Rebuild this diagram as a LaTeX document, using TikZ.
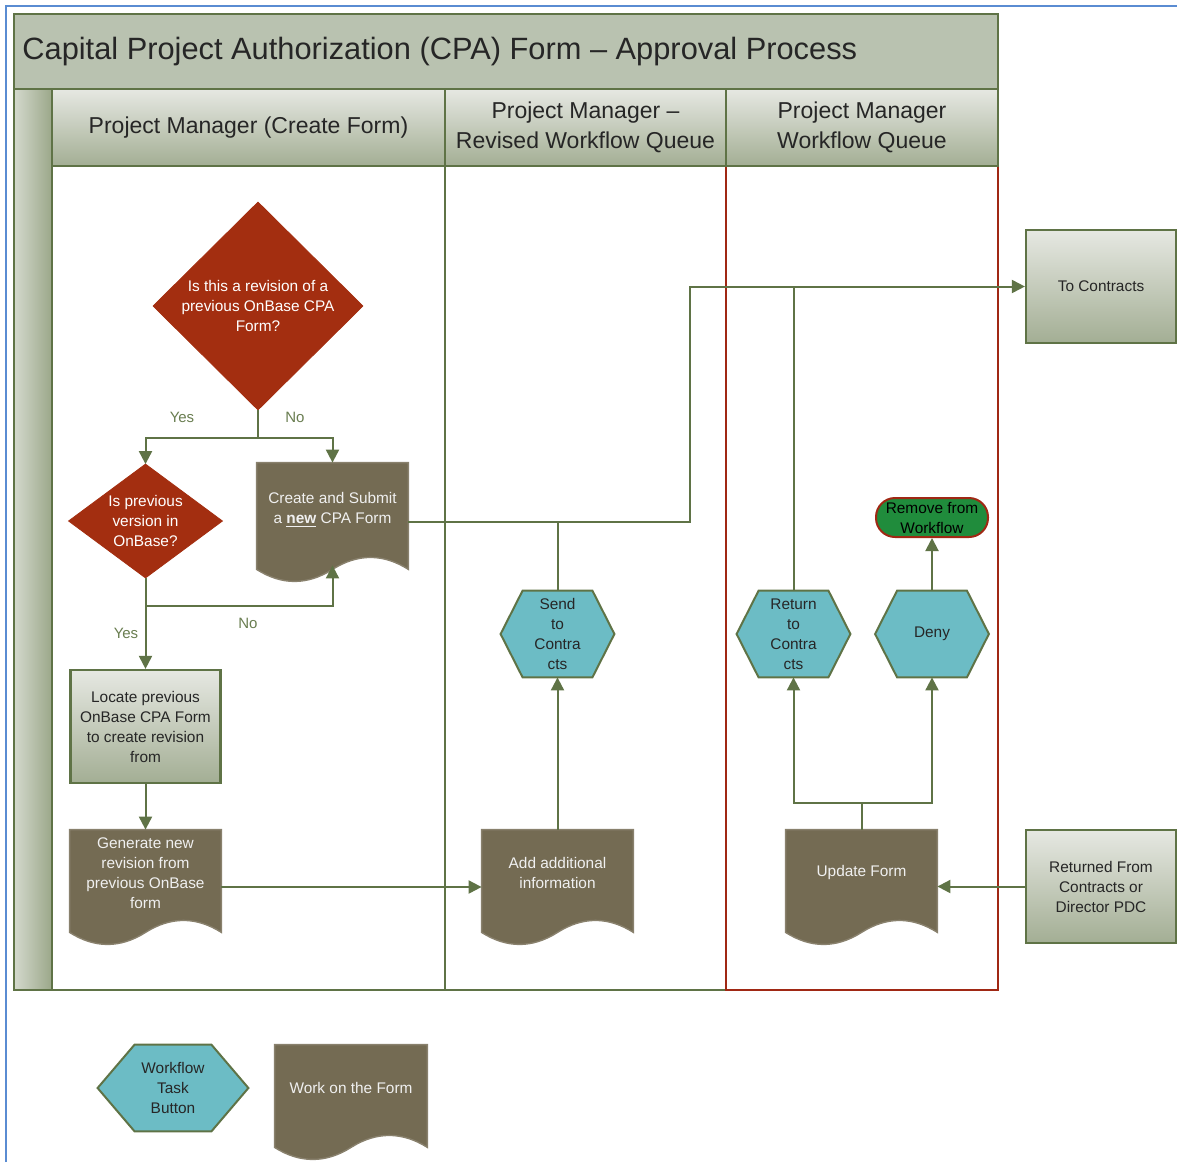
\documentclass[tikz,border=0pt]{standalone}
\usepackage{fontspec}
\setmainfont{Liberation Sans}
\usetikzlibrary{arrows.meta}
\pgfdeclarelayer{background}
\pgfsetlayers{background,main}

\definecolor{laneline}{RGB}{95,115,70}
\definecolor{lanered}{RGB}{160,40,20}
\definecolor{titlefill}{RGB}{185,194,176}
\definecolor{hdrtop}{RGB}{230,232,226}
\definecolor{hdrbot}{RGB}{163,174,148}
\definecolor{barlight}{RGB}{212,217,205}
\definecolor{bardark}{RGB}{155,167,137}
\definecolor{decfill}{RGB}{163,46,16}
\definecolor{formfill}{RGB}{116,107,83}
\definecolor{taskfill}{RGB}{108,188,197}
\definecolor{endfill}{RGB}{32,140,60}
\definecolor{labgreen}{RGB}{105,125,80}
\definecolor{framebl}{RGB}{90,140,210}

\newcommand{\nodefont}{\fontsize{7.7}{10}\selectfont}

\tikzset{%
  >={Triangle[width=6.5pt,length=6.5pt]},
          base/.style = {rectangle, align=center, inner sep=0pt, font=\nodefont},
      decision/.style = {base, text=white},
       formdoc/.style = {base, minimum width=75.5pt, minimum height=43pt, text=white!94!black},
          task/.style = {base, minimum width=56.5pt, minimum height=43pt, text=black!85},
       stepbox/.style = {base, draw=laneline, line width=1.1pt, top color=hdrtop, bottom color=hdrbot,
                         minimum width=75pt, minimum height=56.5pt, text=black!85},
        endbox/.style = {base, rounded corners=9.5pt, fill=endfill, draw=lanered, line width=1pt,
                         minimum width=56pt, minimum height=19.5pt, text=black},
        header/.style = {base, draw=laneline, line width=1.1pt, top color=hdrtop, bottom color=hdrbot,
                         minimum height=38.5pt, font=\fontsize{11.5}{15}\selectfont, text=black!85},
        answer/.style = {font=\fontsize{7.5}{9}\selectfont, text=labgreen},
          flow/.style = {draw=laneline, line width=1pt},
     formshape/.style = {fill=formfill, draw=formfill!85!white, line width=0.7pt},
     taskshape/.style = {fill=taskfill, draw=laneline, line width=1pt},
      lanepath/.style = {draw=laneline, line width=1.2pt},
}

\begin{document}
\begin{tikzpicture}[x=0.5pt, y=-0.5pt]
  \useasboundingbox (0,0) rectangle (1177,1162);

  \draw[framebl, line width=1pt] (6,1162) -- (6,6) -- (1177,6);
  \filldraw[lanepath, fill=titlefill] (14,14) rectangle (998,89);
  \shade[left color=barlight, right color=bardark] (14,89) rectangle (52,990);
  \draw[lanepath] (14,89) rectangle (52,990);
  \draw[lanepath] (52,166) rectangle (445,990);
  \draw[lanepath] (445,166) rectangle (726,990);
  \draw[lanepath, draw=lanered] (726,166) rectangle (998,990);

  \node (title)      [anchor=west, inner sep=0pt, font=\fontsize{15.4}{18}\selectfont, text=black!85] at (22,52)
                     {Capital Project Authorization (CPA) Form – Approval Process};
  \node (hdrCreate)  [header, minimum width=196.5pt] at (248.5,127.5) {Project Manager (Create Form)};
  \node (hdrRevised) [header, minimum width=140.5pt] at (585.5,127.5) {Project Manager –\\Revised Workflow Queue};
  \node (hdrQueue)   [header, minimum width=136pt]   at (862,127.5)   {Project Manager\\Workflow Queue};

  \node (isRevision) [decision, minimum width=104.5pt, minimum height=103.5pt] at (258,306)
                     {Is this a revision of a\\previous OnBase CPA\\Form?};
  \node (inOnBase)   [decision, minimum width=76.5pt, minimum height=56.5pt] at (145.5,521)
                     {Is previous\\version in\\OnBase?};
  \node (createNew)  [formdoc]  at (332.5,510)  {Create and Submit\\a \underline{\textbf{new}} CPA Form};
  \node (locate)     [stepbox]  at (145.5,726.5) {Locate previous\\OnBase CPA Form\\to create revision\\from};
  \node (generate)   [formdoc]  at (145.5,873)  {Generate new\\revision from\\previous OnBase\\form};
  \node (addInfo)    [formdoc]  at (557.5,873)  {Add additional\\information};
  \node (sendTo)     [task]     at (557.5,634)  {Send\\to\\Contra\\cts};
  \node (returnTo)   [task]     at (793.5,634)  {Return\\to\\Contra\\cts};
  \node (deny)       [task]     at (932,634)    {Deny};
  \node (remove)     [endbox]   at (932,517.5)  {Remove from\\Workflow};
  \node (update)     [formdoc]  at (861.5,873)  {Update Form};
  \node (toContracts)[stepbox]  at (1101,286.5) {To Contracts};
  \node (returned)   [stepbox]  at (1101,886.5) {Returned From\\Contracts or\\Director PDC};

  \node (legTask)    [task, minimum width=75pt]  at (173,1088) {Workflow\\Task\\Button};
  \node (legForm)    [formdoc, minimum width=76pt] at (351,1088) {Work on the Form};

  \node (yesA) [answer] at (182,417) {Yes};
  \node (noA)  [answer] at (295,417) {No};
  \node (yesB) [answer] at (126,633) {Yes};
  \node (noB)  [answer] at (248,623) {No};

  \coordinate (createOut) at ([yshift=-6pt]createNew.east);
  \coordinate (contractsBend) at (690,286.5);

  \draw[flow,->] (isRevision.south) -- ++(0,28) -| (inOnBase.north);
  \draw[flow,->] (isRevision.south) -- ++(0,28) -| ([yshift=2pt]createNew.north);
  \draw[flow,->] (inOnBase.south) -- ++(0,28) -| ([yshift=-6pt]createNew.south);
  \draw[flow,->] (inOnBase.south) -- (locate.north);
  \draw[flow,->] (locate.south) -- (generate.north);
  \draw[flow,->] ([yshift=-7pt]generate.east) -- ([yshift=-7pt]addInfo.west);
  \draw[flow,->] (addInfo.north) -- (sendTo.south);
  \draw[flow,->] (createOut) -| (contractsBend) -- (toContracts.west);
  \draw[flow]    (sendTo.north) -- (sendTo.north |- createOut);
  \draw[flow]    (returnTo.north) -- (returnTo.north |- contractsBend);
  \draw[flow,->] (deny.north) -- (remove.south);
  \draw[flow,->] (update.north) -- ++(0,-27) -| (returnTo.south);
  \draw[flow,->] (update.north) -- ++(0,-27) -| (deny.south);
  \draw[flow,->] (returned.west) -- (returned.west -| update.east);

  \begin{pgfonlayer}{background}
    \foreach \dn in {isRevision,inOnBase}
      \filldraw[fill=decfill, draw=decfill] (\dn.north) -- (\dn.east) -- (\dn.south) -- (\dn.west) -- cycle;
    \foreach \hx/\cut in {sendTo/11pt,returnTo/11pt,deny/11pt,legTask/18.5pt}
      \filldraw[taskshape] (\hx.west) -- ([xshift=\cut]\hx.north west) -- ([xshift=-\cut]\hx.north east)
        -- (\hx.east) -- ([xshift=-\cut]\hx.south east) -- ([xshift=\cut]\hx.south west) -- cycle;
    \foreach \fm/\up in {createNew/2pt,generate/0pt,addInfo/0pt,update/0pt,legForm/0pt}
      \filldraw[formshape] ([yshift=\up]\fm.north west) -- ([yshift=\up]\fm.north east) -- ([yshift=-8pt]\fm.south east)
        .. controls ([xshift=-12.6pt]\fm.south east) and ([xshift=12.6pt]\fm.south) .. ([yshift=-8pt]\fm.south)
        .. controls ([xshift=-12.6pt,yshift=-16pt]\fm.south) and ([xshift=12.6pt,yshift=-16pt]\fm.south west)
        .. ([yshift=-8pt]\fm.south west) -- cycle;
  \end{pgfonlayer}
\end{tikzpicture}
\end{document}
